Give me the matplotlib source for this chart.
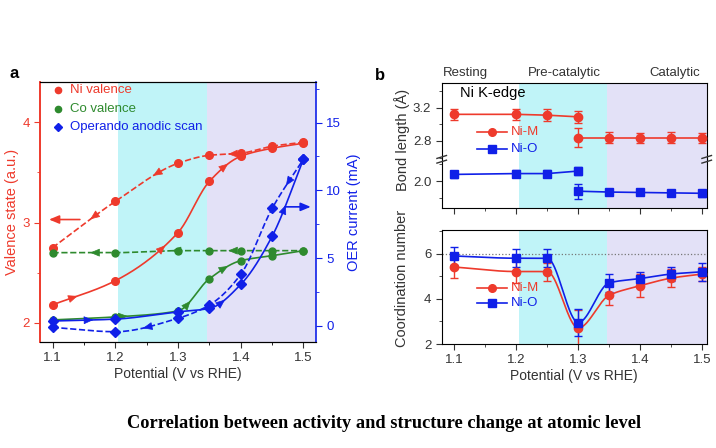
import numpy as np
import matplotlib
matplotlib.use('Agg')
import matplotlib.pyplot as plt
from matplotlib.ticker import MultipleLocator, FormatStrFormatter

plt.rcParams['font.family'] = ['Liberation Sans', 'DejaVu Sans']

# ---- panel a data ----
pot = [1.1, 1.2, 1.3, 1.35, 1.4, 1.45, 1.5]
ni_fwd = [2.18, 2.42, 2.90, 3.41, 3.66, 3.74, 3.79]
ni_rev = [2.75, 3.21, 3.59, 3.67, 3.69, 3.76, 3.80]
co_fwd = [2.03, 2.06, 2.12, 2.44, 2.62, 2.67, 2.72]
co_rev = [2.70, 2.70, 2.72, 2.72, 2.72, 2.72, 2.72]
oer_fwd = [0.35, 0.49, 1.03, 1.28, 3.05, 6.6, 12.3]
oer_rev = [-0.12, -0.44, 0.55, 1.53, 3.79, 8.66, 12.3]

# ---- panel b data ----
bl_v1 = [1.1, 1.2, 1.25, 1.3]
bl_v2 = [1.3, 1.35, 1.4, 1.45, 1.5]
nim_bl1 = [3.12, 3.12, 3.11, 3.09]
nim_bl1_err = [0.07, 0.07, 0.07, 0.07]
nim_bl2 = [2.84, 2.84, 2.84, 2.84, 2.84]
nim_bl2_err = [0.11, 0.07, 0.06, 0.07, 0.06]
nio_bl1 = [2.08, 2.09, 2.09, 2.12]
nio_bl1_err = [0.04, 0.04, 0.04, 0.05]
nio_bl2 = [1.88, 1.87, 1.865, 1.86, 1.855]
nio_bl2_err = [0.09, 0.03, 0.03, 0.04, 0.04]

cn_v = [1.1, 1.2, 1.25, 1.3, 1.35, 1.4, 1.45, 1.5]
cn_nim = [5.41, 5.21, 5.21, 2.71, 4.16, 4.58, 4.92, 5.10]
cn_nim_err = [0.5, 0.5, 0.4, 0.8, 0.45, 0.5, 0.4, 0.3]
cn_nio = [5.90, 5.80, 5.80, 2.95, 4.71, 4.90, 5.10, 5.20]
cn_nio_err = [0.4, 0.4, 0.4, 0.6, 0.4, 0.3, 0.3, 0.4]

RED = '#ee3a2c'
GREEN = '#2e8a2e'
BLUE = '#1020e8'
CYAN = '#c0f4f8'
LAV = '#e3e1f7'
HEAD = '-|>,head_length=0.6,head_width=0.25'


def pchip(x, y, xn):
    x = np.asarray(x, float)
    y = np.asarray(y, float)
    xn = np.asarray(xn, float)
    h = np.diff(x)
    d = np.diff(y) / h
    m = np.zeros_like(y)
    for k in range(1, len(x) - 1):
        if d[k - 1] * d[k] > 0:
            w1 = 2 * h[k] + h[k - 1]
            w2 = h[k] + 2 * h[k - 1]
            m[k] = (w1 + w2) / (w1 / d[k - 1] + w2 / d[k])
    m[0] = d[0]
    m[-1] = d[-1]
    i = np.clip(np.searchsorted(x, xn) - 1, 0, len(h) - 1)
    t = (xn - x[i]) / h[i]
    h00 = 2 * t**3 - 3 * t**2 + 1
    h10 = t**3 - 2 * t**2 + t
    h01 = -2 * t**3 + 3 * t**2
    h11 = t**3 - t**2
    return h00 * y[i] + h10 * h[i] * m[i] + h01 * y[i + 1] + h11 * h[i] * m[i + 1]


def curve(ax, x, y, color, ls, arrows, back=False):
    xs = np.linspace(x[0], x[-1], 300)
    ax.plot(xs, pchip(x, y, xs), color=color, ls=ls, lw=1.2, zorder=3)
    for xa in arrows:
        dx = -0.004 if back else 0.004
        p1 = (xa - dx, float(pchip(x, y, [xa - dx])[0]))
        p2 = (xa, float(pchip(x, y, [xa])[0]))
        ax.annotate('', xy=p2, xytext=p1,
                    arrowprops=dict(arrowstyle=HEAD, color=color, lw=0.5,
                                    shrinkA=0, shrinkB=0),
                    zorder=4)


fig = plt.figure(figsize=(7.16, 4.48), dpi=100)

# ================= panel a =================
ax = fig.add_axes([40 / 716, 106 / 448, 276 / 716, 260 / 448])
ax2 = ax.twinx()
ax.axvspan(1.205, 1.347, color=CYAN, lw=0, zorder=0)
ax.axvspan(1.347, 1.6, color=LAV, lw=0, zorder=0)

curve(ax, pot, ni_fwd, RED, '-', [1.14, 1.28, 1.38])
curve(ax, pot, ni_rev, RED, '--', [1.16, 1.26, 1.38], back=True)
curve(ax, pot, co_fwd, GREEN, '-', [1.22, 1.32, 1.38])
curve(ax, pot, co_rev, GREEN, '--', [1.16, 1.29, 1.38], back=True)
ax.plot(pot, ni_fwd, 'o', color=RED, ms=5.5, zorder=5)
ax.plot(pot, ni_rev, 'o', color=RED, ms=5.5, zorder=5)
ax.plot(pot, co_fwd, 'o', color=GREEN, ms=5, zorder=5)
ax.plot(pot, co_rev, 'o', color=GREEN, ms=5, zorder=5)

curve(ax2, pot, oer_fwd, BLUE, '-', [1.165, 1.375, 1.472])
curve(ax2, pot, oer_rev, BLUE, '--', [1.244, 1.472], back=True)
ax2.plot(pot, oer_fwd, 'D', color=BLUE, ms=5, zorder=5)
ax2.plot(pot, oer_rev, 'D', color=BLUE, ms=5, zorder=5)

ax.annotate('', xy=(1.09, 3.03), xytext=(1.148, 3.03),
            arrowprops=dict(arrowstyle=HEAD, color=RED, lw=1.2))
ax2.annotate('', xy=(1.516, 8.78), xytext=(1.466, 8.78),
             arrowprops=dict(arrowstyle=HEAD, color=BLUE, lw=1.2),
             annotation_clip=False)

ax.set_xlim(1.08, 1.52)
ax.set_ylim(1.81, 4.4)
ax2.set_ylim(-1.2, 18)
ax.xaxis.set_major_locator(MultipleLocator(0.1))
ax.xaxis.set_minor_locator(MultipleLocator(0.05))
ax.yaxis.set_major_locator(MultipleLocator(1))
ax.yaxis.set_minor_locator(MultipleLocator(0.5))
ax2.yaxis.set_major_locator(MultipleLocator(5))
ax2.yaxis.set_minor_locator(MultipleLocator(2.5))

for a in (ax, ax2):
    a.tick_params(which='both', direction='out', labelsize=9.5)
    a.tick_params(which='major', length=4)
    a.tick_params(which='minor', length=2.5)
ax.tick_params(axis='y', which='both', colors=RED)
ax2.tick_params(axis='y', which='both', colors=BLUE)
ax2.tick_params(axis='x', top=False)
ax.tick_params(axis='x', colors='#333333')
ax.spines['left'].set_color(RED)
ax2.spines['left'].set_color(RED)
ax2.spines['right'].set_color(BLUE)
ax.spines['right'].set_visible(False)
for a in (ax, ax2):
    a.spines['left'].set_linewidth(1.2)
    a.spines['right'].set_linewidth(1.2)
ax.set_xlabel('Potential (V vs RHE)', fontsize=10, color='#333333', labelpad=2)
ax.set_ylabel('Valence state (a.u.)', fontsize=10.5, color=RED)
ax.yaxis.set_label_coords(-0.075, 0.5)
ax2.set_ylabel('OER current (mA)', fontsize=10.5, color=BLUE, labelpad=4)

# legend (markers only, coloured text)
leg_items = [('Ni valence', 'o', RED), ('Co valence', 'o', GREEN),
             ('Operando anodic scan', 'D', BLUE)]
for k, (lab, mk, c) in enumerate(leg_items):
    yy = 0.97 - k * 0.072
    ax.plot([0.065], [yy], mk, color=c, ms=4.5, transform=ax.transAxes, clip_on=False, zorder=6)
    ax.text(0.11, yy, lab, color=c, fontsize=9.5, va='center', transform=ax.transAxes)

fig.text(10 / 716, 1 - 73 / 448, 'a', fontsize=12, fontweight='bold', va='center')

# ================= panel b =================
bx_l, bx_w = 441.7 / 716, 265 / 716
bu = fig.add_axes([bx_l, 1 - 159.3 / 448, bx_w, 76.6 / 448])
bm = fig.add_axes([bx_l, 1 - 208 / 448, bx_w, 48.7 / 448])
bc = fig.add_axes([bx_l, 104 / 448, bx_w, 114 / 448])

for a in (bu, bm, bc):
    a.axvspan(1.204, 1.346, color=CYAN, lw=0, zorder=0)
    a.axvspan(1.346, 1.6, color=LAV, lw=0, zorder=0)
    a.set_xlim(1.08, 1.507)
    a.xaxis.set_major_locator(MultipleLocator(0.1))
    a.xaxis.set_minor_locator(MultipleLocator(0.05))
    a.tick_params(which='both', direction='out', labelsize=9.5, colors='#333333')
    a.tick_params(which='major', length=4)
    a.tick_params(which='minor', length=2.5)

ebk = dict(capsize=3, elinewidth=1, capthick=1, lw=1.2, zorder=3)
for a in (bu, bm):
    a.errorbar(bl_v1, nim_bl1, yerr=nim_bl1_err, color=RED, marker='o', ms=6, **ebk)
    a.errorbar(bl_v2, nim_bl2, yerr=nim_bl2_err, color=RED, marker='o', ms=6, **ebk)
    a.errorbar(bl_v1, nio_bl1, yerr=nio_bl1_err, color=BLUE, marker='s', ms=5.5, **ebk)
    a.errorbar(bl_v2, nio_bl2, yerr=nio_bl2_err, color=BLUE, marker='s', ms=5.5, **ebk)

bu.set_ylim(2.58, 3.5)
bm.set_ylim(1.68, 2.26)
for a in (bu, bm):
    a.yaxis.set_major_locator(MultipleLocator(0.4))
    a.yaxis.set_minor_locator(MultipleLocator(0.2))
    a.yaxis.set_major_formatter(FormatStrFormatter('%.1f'))
bm.set_yticks([2.0])
bu.spines['bottom'].set_visible(False)
bm.spines['top'].set_visible(False)
bu.tick_params(axis='x', which='both', bottom=False, labelbottom=False)
bm.tick_params(axis='x', which='both', labelbottom=False)

# break marks
for xx in (0, 1):
    for dy in (-0.012, 0.012):
        bm.plot([xx - 0.018, xx + 0.018], [1 + dy * 4 - 0.03, 1 + dy * 4 + 0.03],
                transform=bm.transAxes, color='#333333', lw=1, clip_on=False, zorder=7)

bu.text(0.07, 0.86, 'Ni K-edge', transform=bu.transAxes, fontsize=10.5, va='center')
for k, (lab, mk, c) in enumerate([('Ni-M', 'o', RED), ('Ni-O', 's', BLUE)]):
    yy = [0.36, 0.13][k]
    bu.plot([0.135, 0.245], [yy, yy], color=c, lw=1.2, transform=bu.transAxes)
    bu.plot([0.19], [yy], mk, color=c, ms=5.5, transform=bu.transAxes)
    bu.text(0.26, yy, lab, color=c, fontsize=9.5, va='center', transform=bu.transAxes)

for txt, xp in [('Resting', 465), ('Pre-catalytic', 564), ('Catalytic', 675)]:
    fig.text(xp / 716, 1 - 73 / 448, txt, fontsize=9.5, ha='center', va='center', color='#333333')
fig.text(402 / 716, 1 - 140 / 448, 'Bond length (Å)', fontsize=10.5, rotation=90,
         ha='center', va='center', color='#333333')
fig.text(375 / 716, 1 - 75 / 448, 'b', fontsize=12, fontweight='bold', va='center')

# coordination number
xs = np.linspace(cn_v[0], cn_v[-1], 300)
bc.plot(xs, pchip(cn_v, cn_nim, xs), color=RED, lw=1.2, zorder=3)
bc.plot(xs, pchip(cn_v, cn_nio, xs), color=BLUE, lw=1.2, zorder=3)
bc.errorbar(cn_v, cn_nim, yerr=cn_nim_err, color=RED, marker='o', ms=6, ls='none',
            capsize=3, elinewidth=1, capthick=1, zorder=4)
bc.errorbar(cn_v, cn_nio, yerr=cn_nio_err, color=BLUE, marker='s', ms=5.5, ls='none',
            capsize=3, elinewidth=1, capthick=1, zorder=4)
bc.axhline(6, color='#777777', ls=':', lw=0.9, zorder=1)
bc.set_ylim(2, 7.05)
bc.yaxis.set_major_locator(MultipleLocator(2))
bc.yaxis.set_minor_locator(MultipleLocator(1))
for k, (lab, mk, c) in enumerate([('Ni-M', 'o', RED), ('Ni-O', 's', BLUE)]):
    yy = [0.495, 0.36][k]
    bc.plot([0.135, 0.245], [yy, yy], color=c, lw=1.2, transform=bc.transAxes)
    bc.plot([0.19], [yy], mk, color=c, ms=5.5, transform=bc.transAxes)
    bc.text(0.26, yy, lab, color=c, fontsize=9.5, va='center', transform=bc.transAxes)
bc.set_xlabel('Potential (V vs RHE)', fontsize=10, color='#333333', labelpad=2)
fig.text(402 / 716, 1 - 278 / 448, 'Coordination number', fontsize=10.5, rotation=90,
         ha='center', va='center', color='#333333')

fig.text(384 / 716, 1 - 423 / 448, 'Correlation between activity and structure change at atomic level',
         fontsize=13.2, fontweight='bold', ha='center', va='center', family='Liberation Serif')

fig.savefig('out.png', dpi=100)
